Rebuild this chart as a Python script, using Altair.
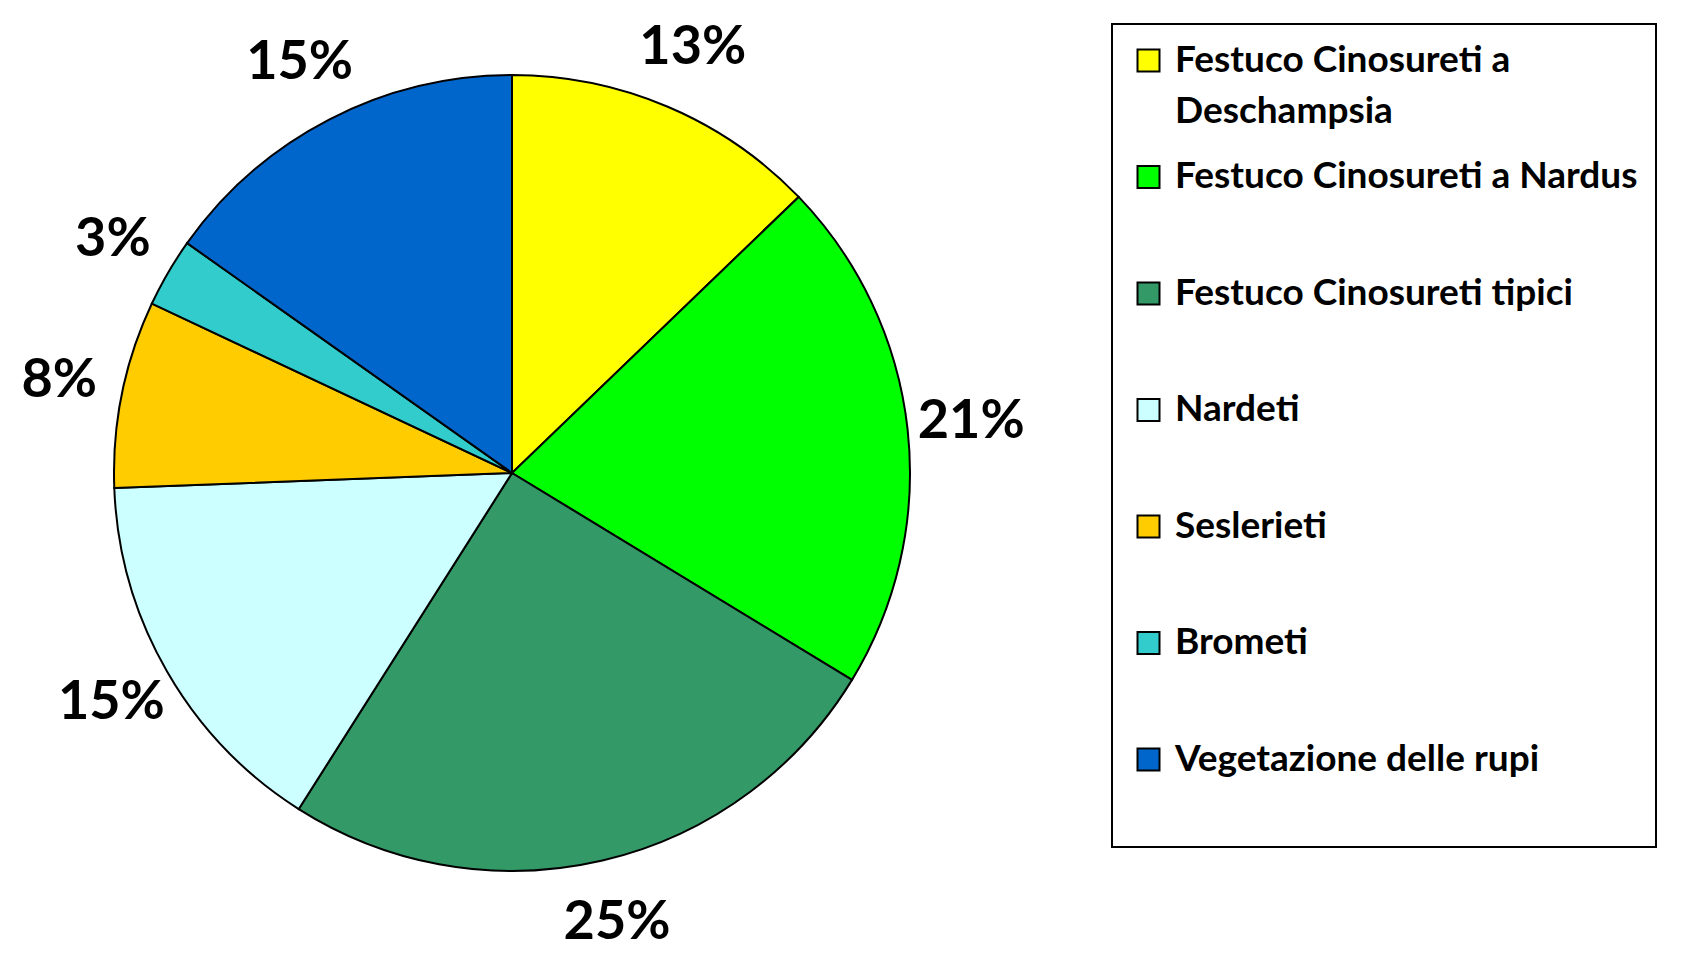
import altair as alt
import pandas as pd

categorie = [
    "Festuco Cinosureti a Deschampsia",
    "Festuco Cinosureti a Nardus",
    "Festuco Cinosureti tipici",
    "Nardeti",
    "Seslerieti",
    "Brometi",
    "Vegetazione delle rupi",
]
valori = [12.8, 20.9, 25.3, 15.4, 7.6, 2.8, 15.2]
colori = ["#FFFF00", "#00FF00", "#339966", "#CCFFFF", "#FFCC00", "#33CCCC", "#0066CC"]

df = pd.DataFrame({"categoria": categorie, "valore": valori, "ordine": list(range(len(categorie)))})

FONT = "Lato"

base = alt.Chart(df).encode(
    theta=alt.Theta("valore:Q", stack=True),
    order=alt.Order("ordine:Q"),
    x=alt.value(504),
    y=alt.value(465),
)

label_expr = (
    "datum.label == 'Festuco Cinosureti a Deschampsia' ? "
    "['Festuco Cinosureti a', 'Deschampsia'] : [datum.label, '']"
)

arcs = base.mark_arc(outerRadius=398, stroke="black", strokeWidth=2).encode(
    color=alt.Color(
        "categoria:N",
        scale=alt.Scale(domain=categorie, range=colori),
        legend=alt.Legend(
            title=None,
            orient="none",
            legendX=1104,
            legendY=16,
            labelExpr=label_expr,
            symbolType="square",
            symbolSize=484,
            symbolStrokeColor="black",
            symbolStrokeWidth=2,
            symbolOpacity=1,
            labelFont=FONT,
            labelFontSize=37,
            labelFontWeight="bold",
            labelColor="black",
            labelOffset=8,
            labelLimit=0,
            rowPadding=27.5,
            padding=18,
            strokeColor="black",
        ),
    )
)

labels = base.transform_calculate(
    testo="format(datum.valore, '.0f') + '%'"
).mark_text(
    radius=462, font=FONT, fontSize=54, fontWeight="bold", color="black",
    align="center", baseline="middle",
).encode(text="testo:N")

chart = (
    alt.layer(arcs, labels)
    .properties(width=1670, height=944, autosize=alt.AutoSizeParams(type="none"), padding=0)
    .configure(style={"guide-label": {"lineHeight": 51}})
    .configure_view(strokeWidth=0)
    .configure_legend(strokeWidth=2)
)

chart.save("out.html", embed_options={"renderer": "svg", "actions": False})
